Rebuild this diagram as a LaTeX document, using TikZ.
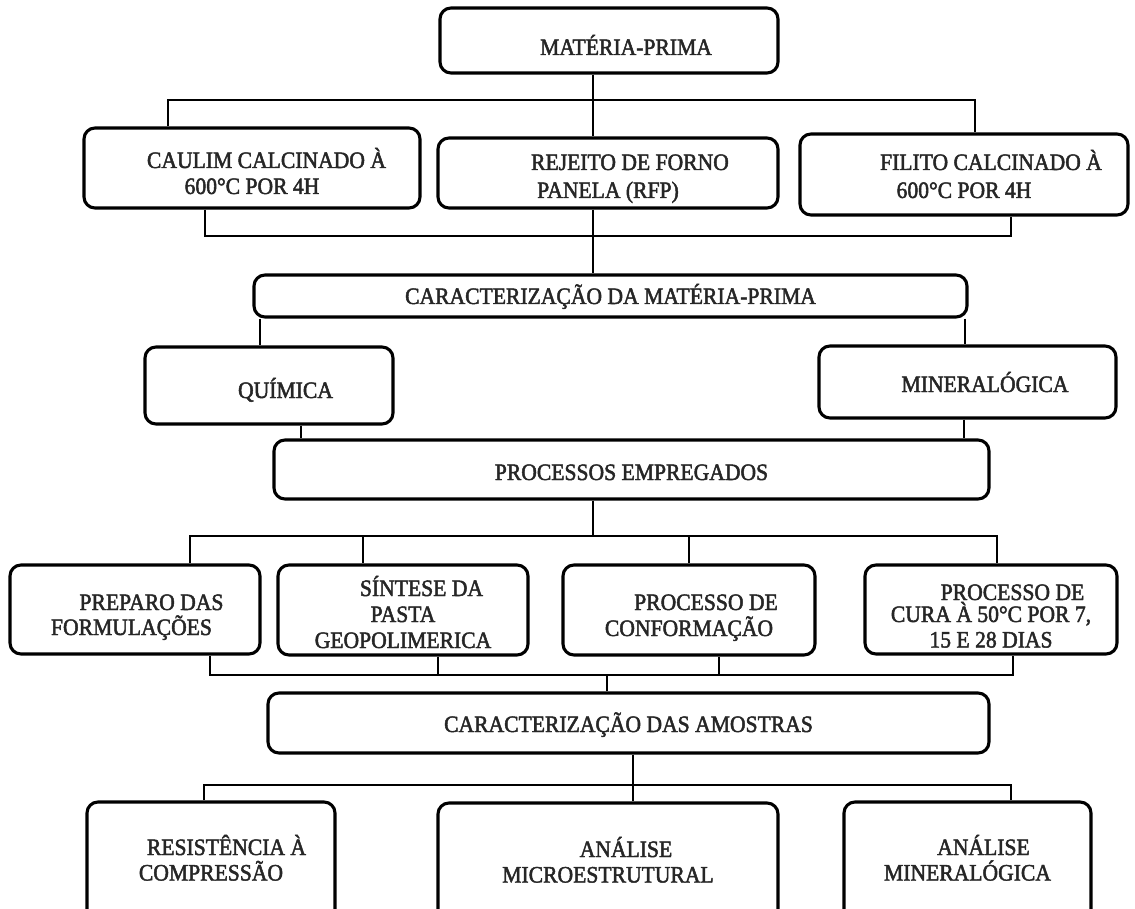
\documentclass[tikz,border=0pt]{standalone}
\usepackage{fontspec}
\newfontfamily\boxfont{Liberation Serif}[FakeBold=2, FakeStretch=0.92]
\newcommand\mkln[2][0]{\hbox to 0pt{\kern#1pt\hbox to 0pt{\hss#2\hss}\hss}}
\newcommand\bt[2]{\raisebox{-#1pt}[0pt][0pt]{\vtop{\baselineskip=25.5pt\lineskiplimit=-100pt\lineskip=0pt #2}}}
\tikzset{
  box/.style={draw=black, line width=3.1pt, rounded corners=11pt, fill=white,
    inner sep=0pt, text=black!85, font=\boxfont\fontsize{23.5}{25.5}\selectfont},
  conn/.style={draw=black, line width=1.3pt}
}
\begin{document}
\begin{tikzpicture}[x=1pt,y=-1pt]
\useasboundingbox (0,0) rectangle (1135,909);
\fill[white] (0,0) rectangle (1135,909);
\clip (0,0) rectangle (1135,909);
% boxes
\node[box, minimum width=338pt, minimum height=65pt] (mp) at (609,40.5) {\bt{14.5}{\mkln[17]{MATÉRIA-PRIMA}}};
\node[box, minimum width=336pt, minimum height=80pt] (caulim) at (252,168) {\bt{0}{\mkln[14.5]{CAULIM CALCINADO À}\kern0.5pt\mkln{600°C POR 4H}}};
\node[box, minimum width=340pt, minimum height=70pt] (rfp) at (608,173) {\bt{-3}{\mkln[22]{REJEITO DE FORNO}\kern2.5pt\mkln{PANELA (RFP)}}};
\node[box, minimum width=328pt, minimum height=81pt] (filito) at (964,174.5) {\bt{-4.5}{\mkln[27]{FILITO CALCINADO À}\kern2.5pt\mkln{600°C POR 4H}}};
\node[box, minimum width=713pt, minimum height=42pt] (cmp) at (610.5,296) {\bt{8}{\mkln{CARACTERIZAÇÃO DA MATÉRIA-PRIMA}}};
\node[box, minimum width=248pt, minimum height=77pt] (quim) at (269,385.5) {\bt{12.5}{\mkln[16.5]{QUÍMICA}}};
\node[box, minimum width=297pt, minimum height=72pt] (miner) at (967.5,382) {\bt{10}{\mkln[17.5]{MINERALÓGICA}}};
\node[box, minimum width=715pt, minimum height=59pt] (proc) at (631.5,469.5) {\bt{10.5}{\mkln{PROCESSOS EMPREGADOS}}};
\node[box, minimum width=250pt, minimum height=89pt] (prep) at (135,609.5) {\bt{0.5}{\mkln[16.5]{PREPARO DAS}\kern-0.5pt\mkln[-3.5]{FORMULAÇÕES}}};
\node[box, minimum width=250pt, minimum height=90pt] (sint) at (403,610) {\bt{-14}{\mkln[18.5]{SÍNTESE DA}\kern0.5pt\mkln{PASTA}\kern0.5pt\mkln{GEOPOLIMERICA}}};
\node[box, minimum width=252pt, minimum height=90pt] (conf) at (689,610) {\bt{0}{\mkln[17]{PROCESSO DE}\kern0.5pt\mkln{CONFORMAÇÃO}}};
\node[box, minimum width=252pt, minimum height=89pt] (cura) at (991,609.5) {\bt{-9.5}{\mkln[21.5]{PROCESSO DE}\kern-3.5pt\mkln{CURA À 50°C POR 7,}\mkln{15 E 28 DIAS}}};
\node[box, minimum width=721pt, minimum height=60pt] (cam) at (628.5,723) {\bt{9}{\mkln{CARACTERIZAÇÃO DAS AMOSTRAS}}};
\node[box, minimum width=248pt, minimum height=118pt] (resist) at (211,861) {\bt{-6}{\mkln[15.5]{RESISTÊNCIA À}\mkln{COMPRESSÃO}}};
\node[box, minimum width=340pt, minimum height=117pt] (micro) at (608,861.5) {\bt{-4.5}{\mkln[18]{ANÁLISE}\mkln{MICROESTRUTURAL}}};
\node[box, minimum width=247pt, minimum height=118pt] (minl) at (967.5,861) {\bt{-6}{\mkln[16]{ANÁLISE}\mkln{MINERALÓGICA}}};
% bus coordinates
\coordinate (a1) at (168,100); \coordinate (a2) at (975,100); \coordinate (am) at (593,100);
\coordinate (b1) at (205,236); \coordinate (b2) at (1011,236); \coordinate (bm) at (593,236);
\coordinate (c1) at (260,330); \coordinate (c2) at (965,330);
\coordinate (d1) at (301,430); \coordinate (d2) at (964,430);
\coordinate (e1) at (190,536); \coordinate (e2) at (363,536); \coordinate (e3) at (689,536); \coordinate (e4) at (997,536); \coordinate (em) at (593,536);
\coordinate (f1) at (210,675); \coordinate (f2) at (438,675); \coordinate (f3) at (719,675); \coordinate (f4) at (1013,675); \coordinate (fm) at (607,675);
\coordinate (g1) at (204,785); \coordinate (g2) at (1011,785); \coordinate (gm) at (633,785);
% connectors
\draw[conn] (mp.south -| am) -- (rfp.north -| am);
\draw[conn] (caulim.north -| a1) -- (a1) -- (a2) -- (filito.north -| a2);
\draw[conn] (caulim.south -| b1) -- (b1) -- (b2) -- (filito.south -| b2);
\draw[conn] (rfp.south -| bm) -- (cmp.north -| bm);
\draw[conn] (cmp.south -| c1) -- (quim.north -| c1);
\draw[conn] (cmp.south -| c2) -- (miner.north -| c2);
\draw[conn] (quim.south -| d1) -- (proc.north -| d1);
\draw[conn] (miner.south -| d2) -- (proc.north -| d2);
\draw[conn] (proc.south -| em) -- (em);
\draw[conn] (prep.north -| e1) -- (e1) -- (e4) -- (cura.north -| e4);
\draw[conn] (e2) -- (sint.north -| e2);
\draw[conn] (e3) -- (conf.north -| e3);
\draw[conn] (prep.south -| f1) -- (f1) -- (f4) -- (cura.south -| f4);
\draw[conn] (sint.south -| f2) -- (f2);
\draw[conn] (conf.south -| f3) -- (f3);
\draw[conn] (fm) -- (cam.north -| fm);
\draw[conn] (cam.south -| gm) -- (micro.north -| gm);
\draw[conn] (resist.north -| g1) -- (g1) -- (g2) -- (minl.north -| g2);
\end{tikzpicture}
\end{document}
